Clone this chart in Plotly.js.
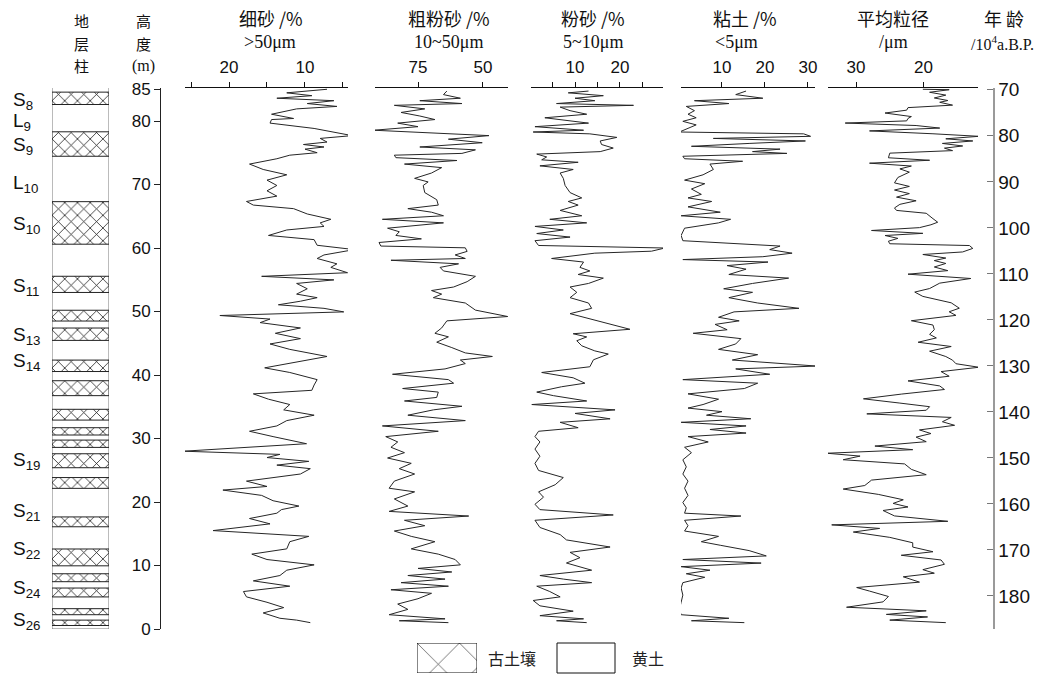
<!DOCTYPE html>
<html><head><meta charset="utf-8">
<script src="https://cdn.plot.ly/plotly-3.0.1.min.js"></script>
<style>html,body{margin:0;padding:0;background:#fff}#chart{width:1049px;height:674px}</style>
</head><body><div id="chart"></div>
<script>
// ---------- data ----------
const heightTicks = [0,10,20,30,40,50,60,70,80,85];
const ageTicks = [70,80,90,100,110,120,130,140,150,160,170,180];

const paleosolBase = [82.6,74.45,60.6,53.0,48.5,45.45,40.55,36.75,32.9,30.55,28.6,25.4,22.15,16.1,9.95,7.45,5.05,2.25,0.55];
const paleosolTop  = [84.55,78.3,67.3,55.55,50.2,47.4,42.35,39.1,34.6,31.7,29.75,27.6,23.85,17.65,12.6,8.7,6.45,3.2,1.4];
const columnTop = 85.3;

const unitNames = ['S<sub>8</sub>','L<sub>9</sub>','S<sub>9</sub>','L<sub>10</sub>','S<sub>10</sub>','S<sub>11</sub>','S<sub>13</sub>','S<sub>14</sub>','S<sub>19</sub>','S<sub>21</sub>','S<sub>22</sub>','S<sub>24</sub>','S<sub>26</sub>'];
const unitHeights = [83.2,79.8,76.0,70.1,63.6,53.8,46.1,42.0,26.5,18.5,12.4,6.3,1.3];

// fine sand >50um (%)
const h1 = [85.0,84.44,83.99,83.59,83.2,82.75,82.3,81.91,81.07,80.4,
80.23,79.67,78.83,78.27,77.7,77.26,76.69,76.3,75.91,75.57,
75.01,74.62,74.06,73.22,72.37,71.53,70.69,69.85,69.01,68.17,
67.33,66.76,66.2,65.36,64.52,63.96,63.4,62.84,61.98,61.32,
60.43,59.75,58.91,58.35,57.51,56.95,56.11,55.54,54.98,54.42,
53.58,52.74,52.18,51.62,51.06,50.5,49.94,49.37,48.81,48.25,
47.41,46.57,45.73,44.89,44.04,42.92,41.8,41.13,40.4,39.27,
38.43,37.59,37.03,36.19,35.35,34.51,33.67,32.82,31.98,31.14,
30.3,29.18,28.0,27.5,27.0,26.4,25.81,25.25,24.41,23.29,
22.45,21.88,21.04,20.2,19.36,18.8,18.24,17.4,16.56,15.5,
14.59,13.75,12.62,11.79,10.94,10.1,9.26,8.42,7.58,6.74,
5.9,5.06,4.21,3.37,2.53,1.69,1.4,1.0];
const fineSand = [7.1,12.4,9.1,13.7,6.2,9.7,5.8,11.1,14.4,11.5,
14.4,14.6,8.8,6.2,3.8,8.0,7.1,10.2,7.5,10.0,
8.4,12.0,13.7,17.3,15.5,12.4,15.0,13.7,15.0,13.7,
17.7,16.8,11.5,9.7,6.6,8.0,7.5,12.4,14.8,8.8,
8.4,3.5,7.5,8.4,5.8,6.6,4.4,15.7,6.2,11.1,
9.7,11.1,8.4,10.6,13.5,7.5,4.9,21.2,14.6,15.9,
10.6,13.9,10.6,14.6,12.0,7.1,12.4,15.3,12.0,8.4,
8.8,9.1,16.8,14.8,12.0,12.8,8.8,12.4,13.7,17.3,
14.2,9.8,26.0,13.3,15.0,9.5,13.7,9.3,10.6,17.7,
15.0,20.8,15.7,14.2,10.8,13.1,13.7,17.3,14.6,22.1,
9.5,12.0,12.4,17.0,15.0,8.8,12.4,13.3,16.8,12.0,
18.1,17.7,15.0,12.8,15.5,13.3,11.1,9.3];

// coarse silt 10-50um (%)
const h2 = [84.72,84.16,83.59,83.2,82.75,82.47,81.91,81.35,80.79,80.23,
79.67,79.11,78.55,77.7,77.14,76.58,75.91,75.46,74.9,74.62,
74.23,73.78,73.22,72.66,71.81,70.97,70.41,69.85,68.73,67.61,
66.76,66.2,65.64,65.08,64.52,63.96,63.12,62.56,61.98,61.44,
60.87,60.31,60.03,59.47,58.91,58.35,58.07,57.51,56.95,56.39,
55.54,54.7,53.86,53.3,52.74,52.18,51.34,50.22,49.21,48.53,
47.41,46.57,46.01,45.17,44.32,43.48,42.92,42.36,41.8,40.96,
40.12,39.27,38.71,37.87,37.31,36.47,35.91,35.07,34.51,33.67,
32.82,31.98,31.14,30.3,29.46,28.62,27.77,26.93,26.09,25.25,
24.41,23.29,22.17,21.6,20.48,19.36,18.52,17.79,17.12,16.27,
15.43,14.59,13.75,12.62,11.79,10.94,10.1,9.54,8.98,8.42,
7.86,7.3,6.74,6.18,5.62,4.77,3.93,3.09,2.25,1.6,
1.3,1.0];
const coarseSilt = [63.9,65.2,58.7,74.3,58.1,84.1,72.4,81.5,74.3,68.5,
82.8,75.0,92.0,47.7,63.3,50.3,74.3,52.9,58.1,84.1,
83.5,60.0,80.2,65.9,69.8,76.3,71.1,73.0,72.4,67.8,
67.2,78.9,69.8,65.2,88.7,65.2,86.7,82.2,83.5,73.7,
90.0,89.3,56.8,56.1,60.7,56.8,85.4,59.4,66.5,65.2,
52.9,56.1,61.3,69.8,65.9,69.1,56.8,52.9,40.5,63.9,
65.9,68.5,63.3,67.8,62.0,56.8,46.4,58.7,56.8,64.6,
84.8,63.3,61.3,80.9,67.2,67.8,80.2,58.1,69.1,78.9,
56.8,88.7,67.2,87.4,82.8,85.4,80.2,86.7,77.6,82.2,
76.3,84.1,86.1,76.3,84.1,78.9,86.1,55.5,80.2,72.4,
84.1,77.6,68.5,77.6,67.2,60.7,58.7,75.0,62.0,78.9,
64.6,81.5,63.3,85.4,69.8,75.0,82.8,78.9,86.1,64.6,
82.2,63.3];

// silt 5-10um (%)
const h3 = [84.72,84.44,83.99,83.59,83.2,82.75,82.47,82.19,81.63,81.07,
80.51,80.06,79.67,79.11,78.55,78.27,77.98,77.42,76.86,76.3,
75.74,75.18,74.79,74.34,73.89,73.5,72.94,72.37,71.81,70.97,
69.85,68.73,67.89,67.33,66.76,65.92,65.08,64.52,63.96,63.4,
62.84,62.28,61.72,61.15,60.4,60.0,59.5,59.19,58.35,57.79,
56.95,56.39,55.83,55.26,54.42,53.86,53.02,52.18,51.34,50.5,
49.66,47.2,46.5,46.0,45.4,44.6,43.8,43.3,42.4,41.3,
40.4,39.56,38.71,38.15,37.31,36.75,35.91,35.35,34.51,33.95,
33.1,32.55,31.7,31.14,30.3,29.46,28.34,27.21,26.09,24.97,
23.85,22.72,21.6,20.76,19.64,18.8,17.96,17.12,15.99,14.87,
14.03,12.91,12.07,11.23,10.39,9.26,8.42,7.86,7.3,6.74,
5.9,5.06,4.49,3.65,2.81,2.1,1.6,1.3,1.0];
const silt = [13.0,8.5,16.3,10.0,14.4,5.9,23.0,6.7,8.9,12.6,
3.3,9.3,13.0,1.1,11.9,0.7,13.3,19.3,15.6,15.9,
18.5,15.6,1.5,3.7,2.6,10.7,2.2,9.6,6.7,7.4,
7.8,8.9,11.5,8.5,10.7,6.7,11.5,4.4,12.6,1.1,
7.4,1.5,8.9,1.1,1.9,30.0,27.0,14.4,4.8,11.9,
11.1,13.3,10.7,16.3,13.0,8.9,10.4,8.9,13.0,13.7,
8.9,22.2,9.6,12.6,10.4,11.5,14.4,17.4,14.1,13.3,
2.6,9.6,12.2,7.0,1.5,5.2,12.6,0.4,18.9,10.0,
17.8,6.7,10.7,1.9,1.1,2.2,1.1,2.2,1.1,1.9,
7.4,5.6,1.9,3.0,1.1,2.2,18.5,1.1,2.2,6.7,
8.1,17.8,8.9,11.1,8.1,13.7,2.2,7.4,13.7,1.5,
4.4,6.7,0.7,2.2,9.6,2.2,11.9,5.9,12.6];

// clay <5um (%)
const h4 = [84.72,84.16,83.59,83.2,82.75,82.3,81.63,81.07,80.51,79.95,
79.39,78.83,78.27,77.98,77.59,77.26,76.86,76.47,76.02,75.57,
75.18,74.9,74.45,74.06,73.66,73.22,72.37,71.53,70.69,70.13,
69.29,68.45,67.89,67.33,66.48,65.64,65.08,64.52,63.96,63.12,
61.98,61.15,60.31,59.75,59.19,58.63,58.18,57.79,57.23,56.67,
55.83,55.26,54.42,53.58,53.02,52.18,51.34,50.5,49.94,49.09,
48.53,47.97,47.13,46.57,45.73,44.89,44.04,43.2,42.36,41.41,
40.96,40.12,39.27,38.71,37.87,37.03,36.19,35.35,34.79,34.23,
33.67,33.11,32.55,31.98,31.42,30.86,30.3,29.46,28.62,27.77,
26.65,25.53,24.41,23.29,22.17,21.04,19.92,19.08,18.24,17.79,
17.12,16.27,15.43,14.59,13.75,13.19,12.35,11.51,10.94,10.38,
9.82,9.26,8.7,8.14,7.3,6.46,5.34,4.21,3.09,2.25,
1.69,1.3,1.0];
const clay = [15.6,13.2,19.5,3.6,11.6,1.7,3.6,2.1,4.0,0.9,
4.0,2.1,0.1,29.0,30.6,8.0,29.4,16.3,2.9,23.5,
17.1,25.1,0.9,1.3,14.8,7.2,8.0,5.6,1.3,6.0,
2.9,5.2,2.1,7.6,2.1,9.6,0.5,12.0,9.2,1.3,
0.5,0.9,23.5,21.1,26.3,19.5,0.9,20.7,11.2,15.6,
11.6,25.5,17.1,10.4,17.1,11.6,18.3,27.9,12.8,9.2,
14.0,8.4,11.2,3.3,14.4,13.2,9.2,18.3,12.4,32.0,
13.2,21.1,0.9,18.3,15.2,2.1,9.2,5.6,2.1,10.0,
6.4,16.7,0.5,15.6,7.2,15.6,2.1,6.8,1.3,2.9,
0.9,1.7,0.9,2.1,1.3,2.1,0.9,1.7,1.3,14.4,
1.3,2.1,1.3,9.2,5.2,9.6,16.3,20.3,0.9,19.1,
0.5,7.2,1.7,6.0,0.9,0.5,0.9,0.5,0.1,0.5,
11.6,2.9,15.2];

// mean grain size (um)
const h5 = [85.0,84.93,84.53,84.08,83.63,83.23,82.95,82.5,82.11,81.71,
81.26,80.7,80.41,80.02,79.68,79.29,78.89,78.44,77.99,77.59,
77.2,76.86,76.47,76.07,75.73,75.34,74.94,74.21,73.82,73.36,
72.91,72.46,71.95,71.11,70.26,69.7,69.13,68.57,68.01,67.44,
66.88,66.31,65.92,65.47,64.62,64.06,63.66,63.21,62.76,62.31,
61.97,61.52,61.07,60.67,60.39,59.94,59.38,58.98,58.42,58.02,
57.57,57.01,56.44,55.88,55.2,54.47,53.62,53.06,52.38,51.37,
50.52,49.96,49.39,48.55,47.87,47.14,46.4,45.84,45.16,44.49,
43.75,42.91,42.34,41.78,41.22,40.54,39.81,39.07,38.28,37.72,
36.99,36.25,35.58,35.01,34.45,33.88,33.32,32.64,32.08,31.35,
30.78,30.22,29.5,28.81,28.24,27.68,27.23,26.66,26.0,25.14,
24.3,23.45,22.6,22.04,21.2,20.35,19.78,19.22,18.66,17.81,
16.96,16.4,15.84,15.27,14.43,13.58,12.9,12.17,11.61,10.87,
10.19,9.35,8.79,8.22,7.38,6.53,5.97,5.12,4.27,3.43,
2.86,2.3,1.9,1.4,1.0];
const meanSize = [20.1,16.2,19.1,16.7,18.4,16.4,17.6,15.7,22.3,22.5,
25.7,21.8,22.3,22.5,31.6,21.1,17.6,28.0,18.6,11.8,
16.7,12.7,17.2,14.2,16.9,15.7,25.0,25.2,19.1,28.0,
21.8,23.5,22.1,23.8,24.3,22.1,24.3,22.1,24.0,21.1,
23.5,24.3,24.0,19.6,18.6,17.9,18.9,20.6,27.7,20.1,
25.7,23.8,25.2,25.0,13.2,12.7,14.2,20.1,16.7,18.4,
16.7,18.4,16.4,22.3,13.0,17.6,19.1,21.3,20.1,15.9,
14.7,16.2,15.2,21.8,18.6,18.4,19.1,18.1,20.8,15.9,
19.1,16.7,15.7,15.2,11.8,17.4,16.2,22.3,17.6,16.9,
23.3,28.9,23.5,19.1,19.6,28.4,15.9,17.2,15.4,20.6,
18.9,21.1,19.6,27.2,21.6,34.3,29.4,31.9,22.8,21.8,
19.6,27.7,28.7,31.9,26.7,23.0,24.5,22.3,26.0,24.3,
16.4,33.6,26.5,30.4,25.0,21.6,21.6,18.6,23.3,17.4,
16.9,20.1,18.4,23.0,20.6,29.9,28.0,25.2,26.0,31.4,
19.6,25.5,19.4,25.0,16.7];

const panelTitles = ['细砂 /%','粗粉砂 /%','粉砂 /%','粘土 /%','平均粒径'];
const panelUnits = ['>50μm','10~50μm','5~10μm','<5μm','/μm'];
const panelLabelTicks = [[20, 10], [75, 50], [10, 20], [10, 20, 30], [30, 20]];
const panelMinorTicks = [[25, 15, 5], [], [5, 15, 25], [], []];
const columnHeader = ['地', '层', '柱'];
const heightHeader = ['高', '度', '(m)'];

// ---------- layout helpers ----------
const W = 1049, H = 674;
const px = x => x / W;
const py = y => 1 - y / H;
const yDom = [py(629), py(88)];
const cjk = 'Noto Sans CJK SC, sans-serif';
const serif = 'Liberation Serif, Times New Roman, serif';
const sans = 'Liberation Sans, Arial, sans-serif';
const lineStyle = {color: '#262626', width: 1};

const traces = [];
// stratigraphic column background (loess)
traces.push({type: 'bar', x: [0.5], y: [columnTop], base: [0], width: 1,
  xaxis: 'x', yaxis: 'y', hoverinfo: 'skip',
  marker: {color: 'white', line: {color: '#777', width: 1}}});
// paleosol layers
traces.push({type: 'bar', x: paleosolBase.map(() => 0.5),
  y: paleosolTop.map((t, i) => t - paleosolBase[i]), base: paleosolBase, width: 1,
  xaxis: 'x', yaxis: 'y', hoverinfo: 'skip',
  marker: {color: 'white', line: {color: '#222', width: 1},
    pattern: {shape: 'x', fgcolor: '#111', bgcolor: 'white', size: 9, solidity: 0.16, fillmode: 'replace'}}});
// invisible trace to realise the age axis
traces.push({type: 'scatter', mode: 'markers', x: [0.5, 0.5], y: [ageTicks[0], ageTicks[ageTicks.length - 1]],
  xaxis: 'x', yaxis: 'y2', marker: {opacity: 0}, hoverinfo: 'skip'});

const series = [[fineSand, h1], [coarseSilt, h2], [silt, h3], [clay, h4], [meanSize, h5]];
series.forEach((s, i) => {
  traces.push({type: 'scatter', mode: 'lines', x: s[0], y: s[1],
    xaxis: 'x' + (i + 2), yaxis: 'y', line: lineStyle, hoverinfo: 'skip'});
});

// legend hatched box
traces.push({type: 'bar', x: [0.5], y: [1], base: [0], width: 1, xaxis: 'x7', yaxis: 'y7', hoverinfo: 'skip',
  marker: {color: 'white', line: {color: '#111', width: 1},
    pattern: {shape: 'x', fgcolor: '#222', bgcolor: 'white', size: 30, solidity: 0.04, fillmode: 'replace'}}});

const panelDomains = [[185, 348], [375, 508], [531, 663], [681, 815], [828, 978]];
const panelRanges = [[25.79, 4.34], [91.54, 40.38], [0.22, 29.56], [0.47, 31.63], [34.15, 11.93]];

const layout = {
  width: W, height: H, margin: {l: 0, r: 0, t: 0, b: 0},
  paper_bgcolor: 'white', plot_bgcolor: 'rgba(0,0,0,0)',
  showlegend: false, barmode: 'overlay',
  font: {family: sans, color: '#111'},
  xaxis: {domain: [px(52), px(109)], range: [0, 1], visible: false, anchor: 'y', fixedrange: true},
  yaxis: {domain: yDom, range: [0, 85.2], anchor: 'free', position: px(160), side: 'left',
    showline: true, linecolor: '#222', linewidth: 1, ticks: 'outside', ticklen: 6, tickcolor: '#222',
    tickvals: heightTicks, showgrid: false, zeroline: false, tickfont: {size: 17, color: '#111'}},
  yaxis2: {overlaying: 'y', range: [187.2, 69.6], anchor: 'free', position: px(993), side: 'right',
    showline: true, linecolor: '#9a9a9a', linewidth: 1.5, ticks: 'inside', ticklen: 6, tickcolor: '#777',
    tickvals: ageTicks, showgrid: false, zeroline: false, tickfont: {size: 19, color: '#111'}},
  xaxis7: {domain: [px(417), px(477)], range: [0, 1], visible: false, anchor: 'y7'},
  yaxis7: {domain: [py(673), py(643)], range: [0, 1], visible: false, anchor: 'x7'},
  shapes: [{type: 'rect', xref: 'paper', yref: 'paper', x0: px(557), x1: px(615), y0: py(673), y1: py(643),
    line: {color: '#111', width: 1}, fillcolor: 'white'}],
  annotations: []
};

panelDomains.forEach((d, i) => {
  const ax = {domain: [px(d[0]), px(d[1])], range: panelRanges[i], anchor: 'y', side: 'top',
    showline: true, linecolor: '#111', linewidth: 1.2, ticks: 'outside', ticklen: 5, tickcolor: '#111',
    tickmode: 'array', tickvals: panelLabelTicks[i], ticklabelstandoff: 2,
    showgrid: false, zeroline: false, tickfont: {size: 17, color: '#111'}};
  if (panelMinorTicks[i].length) {
    ax.minor = {tickmode: 'array', tickvals: panelMinorTicks[i], ticks: 'outside', ticklen: 5, tickcolor: '#111', showgrid: false};
  }
  layout['xaxis' + (i + 2)] = ax;
});

const ann = (text, x, y, font, extra) => layout.annotations.push(Object.assign({
  text: text, x: px(x), y: py(y), xref: 'paper', yref: 'paper', showarrow: false,
  xanchor: 'center', yanchor: 'middle', font: font}, extra || {}));

const titleCenters = [271, 449, 593, 745, 893];
const unitCenters = [270, 448, 593, 736, 893];
panelTitles.forEach((t, i) => ann(t, titleCenters[i], 18, {family: cjk, size: 18, color: '#111'}));
panelUnits.forEach((t, i) => ann(t, unitCenters[i], 42, {family: serif, size: 18, color: '#111'}));

const headerRows = [20, 43, 66];
columnHeader.forEach((t, i) => ann(t, 81, headerRows[i], {family: cjk, size: 15, color: '#111'}));
heightHeader.forEach((t, i) => ann(t, 143, headerRows[i], {family: i < 2 ? cjk : serif, size: i < 2 ? 15 : 16, color: '#111'}));
ann('年 龄', 1004, 18, {family: cjk, size: 18, color: '#111'});
ann('/10<sup>4</sup>a.B.P.', 1002, 43, {family: serif, size: 16, color: '#111'});
ann('古土壤', 512, 658, {family: cjk, size: 16, color: '#222'});
ann('黄土', 648, 658, {family: cjk, size: 16, color: '#222'});

unitNames.forEach((n, i) => layout.annotations.push({text: n, x: px(11), y: unitHeights[i],
  xref: 'paper', yref: 'y', showarrow: false, xanchor: 'left', yanchor: 'middle',
  font: {family: sans, size: 19, color: '#111'}}));

Plotly.newPlot('chart', traces, layout, {displayModeBar: false, staticPlot: true});
</script>
</body></html>
